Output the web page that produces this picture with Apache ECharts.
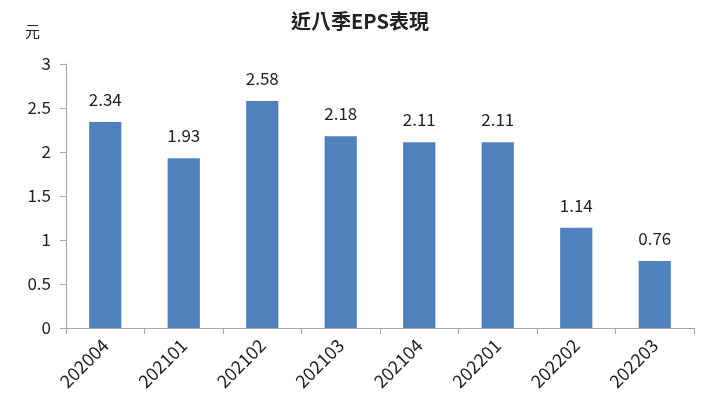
<!DOCTYPE html>
<html><head><meta charset="utf-8">
<script src="https://cdn.jsdelivr.net/npm/echarts@6/dist/echarts.min.js"></script>
<style>html,body{margin:0;padding:0;background:#fff}#c{width:720px;height:418px}</style>
</head><body><div id="c"></div>
<script>
const categories = ['202004','202101','202102','202103','202104','202201','202202','202203'];
const eps = [2.34, 1.93, 2.58, 2.18, 2.11, 2.11, 1.14, 0.76];
const yTicks = [0, 0.5, 1, 1.5, 2, 2.5, 3];
const font = '"Noto Sans CJK TC", "Noto Sans", sans-serif';
const chart = echarts.init(document.getElementById('c'));
chart.setOption({
  animation: false,
  title: { text: '近八季EPS表現', left: 'center', top: 6,
    textStyle: { fontSize: 20, fontWeight: 'bold', color: '#222', fontFamily: font } },
  grid: { left: 66, right: 26, top: 64, bottom: 90 },
  xAxis: { type: 'category', data: categories,
    axisLine: { lineStyle: { color: '#a6a6a6' } },
    axisTick: { show: true, length: 6, lineStyle: { color: '#a6a6a6' } },
    axisLabel: { rotate: 45, fontSize: 18, color: '#222', fontFamily: font, margin: 14 } },
  yAxis: { type: 'value', min: 0, max: 3, interval: 0.5,
    name: '元', nameLocation: 'end', nameGap: 25,
    nameTextStyle: { fontSize: 15, color: '#222', fontFamily: font, align: 'right', padding: [0, 26, 0, 0] },
    axisLine: { show: true, lineStyle: { color: '#a6a6a6' } },
    axisTick: { show: true, length: 6, lineStyle: { color: '#a6a6a6' } },
    splitLine: { show: false },
    axisLabel: { fontSize: 17, color: '#222', fontFamily: font, margin: 15,
      formatter: v => yTicks.includes(v) ? String(v) : '' } },
  series: [{ type: 'bar', data: eps, barWidth: '41%',
    itemStyle: { color: '#4F81BD' },
    label: { show: true, position: 'top', distance: 14, fontSize: 17, color: '#222', fontFamily: font } }]
});
</script></body></html>
